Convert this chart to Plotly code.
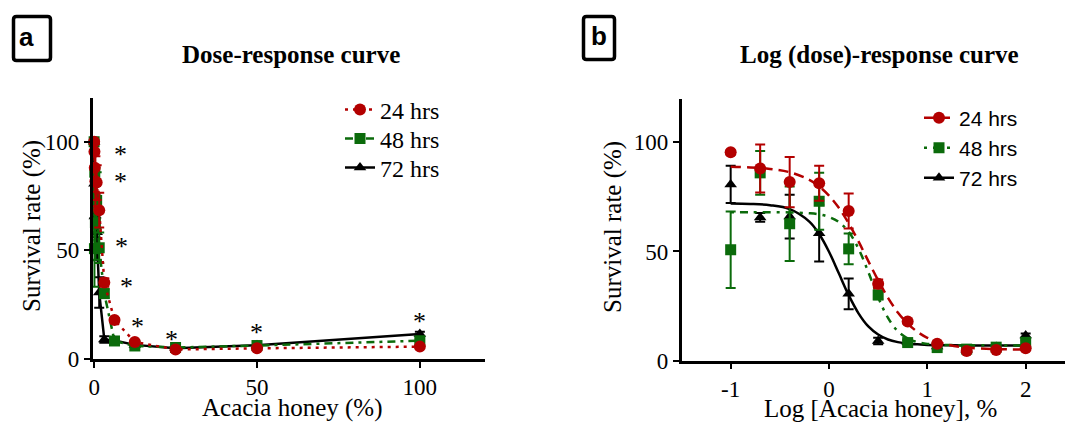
import plotly.graph_objects as go

# ---------------- data ----------------
series_names = ["24 hrs", "48 hrs", "72 hrs"]

# log10 of honey concentration (%) used in panel b
log_dose = [-1.0, -0.7, -0.4, -0.1, 0.2, 0.5, 0.8, 1.1, 1.4, 1.7, 2.0]
# linear honey concentration (%) used in panel a (0 = untreated control)
lin_dose = [0, 0.1, 0.2, 0.39, 0.78, 1.56, 3.125, 6.25, 12.5, 25, 50, 100]

surv_24 = [95.4, 88.0, 81.8, 81.2, 68.5, 35.2, 17.9, 7.8, 4.4, 4.9, 5.7]
surv_48 = [50.8, 86.0, 62.7, 73.0, 51.2, 30.1, 8.3, 6.0, 5.3, 6.2, 8.4]
surv_72 = [80.7, 65.6, 66.0, 58.4, 30.6, 9.0, 8.5, 6.5, 5.0, 6.3, 11.5]

err_24 = [1.0, 11.0, 11.5, 8.0, 8.0, 2.0, 1.0, 1.0, 0.5, 0.5, 0.5]
err_48 = [17.5, 10.0, 17.0, 13.0, 7.0, 2.0, 1.0, 1.0, 1.0, 1.0, 1.0]
err_72 = [8.5, 2.0, 10.0, 13.0, 7.0, 1.5, 1.0, 1.0, 1.0, 1.0, 1.0]

control_surv = 100.0
control_err = 0.0

# fitted curves (panel b)
curve_x = [-1.0, -0.8, -0.6, -0.4, -0.2, -0.1, 0.0, 0.1, 0.2, 0.3, 0.4, 0.5,
           0.6, 0.7, 0.8, 0.9, 1.0, 1.2, 1.4, 1.7, 2.0]
curve_24 = [88.8, 88.5, 87.8, 86.3, 82.8, 79.8, 75.6, 70.0, 62.9, 54.6, 45.6, 36.8,
            28.8, 22.1, 17.0, 13.2, 10.5, 7.4, 6.0, 5.3, 5.1]
curve_48 = [68.0, 68.0, 68.0, 67.9, 67.5, 67.0, 65.8, 63.5, 59.0, 51.3, 40.6, 29.0,
            19.6, 13.5, 10.2, 8.5, 7.7, 7.2, 7.1, 7.0, 7.0]
curve_72 = [72.0, 71.8, 71.2, 69.4, 63.7, 58.0, 49.9, 40.0, 30.0, 21.7, 15.7, 12.0,
            9.7, 8.5, 7.8, 7.5, 7.2, 7.1, 7.0, 7.0, 7.0]

# significance stars (panel a)
star_x = [8.0, 8.2, 8.5, 9.8, 13.4, 23.6, 49.9, 99.8]
star_y = [96.4, 84.1, 54.1, 35.7, 17.2, 11.1, 14.3, 19.5]

a_ticks = [0, 50, 100]
b_xticks = [-1, 0, 1, 2]
b_xticktext = ["-1", "0", "1", "2"]
y_ticks = [0, 50, 100]

# ---------------- style ----------------
W, H = 1065, 423
RED = "#B30000"
GREEN = "#0B6B0B"
BLACK = "#000000"
SERIF = "Liberation Serif"
SANS = "Liberation Sans"


def px_x(p):
    return p / W


def px_y(p):
    return (H - p) / H


styles = {
    "24 hrs": dict(color=RED, symbol="circle", size=12, dash_a="3px,5px", dash_b="10px,6px"),
    "48 hrs": dict(color=GREEN, symbol="square", size=11, dash_a="8px,5px,3px,5px", dash_b="3px,6px,8px,6px"),
    "72 hrs": dict(color=BLACK, symbol="triangle-up", size=11, dash_a="solid", dash_b="solid"),
}
vals = {"24 hrs": (surv_24, err_24, curve_24),
        "48 hrs": (surv_48, err_48, curve_48),
        "72 hrs": (surv_72, err_72, curve_72)}

# one legend per entry so rows can be placed like the reference
legend_a = {"24 hrs": "legend", "48 hrs": "legend3", "72 hrs": "legend4"}
legend_b = {"24 hrs": "legend2", "48 hrs": "legend5", "72 hrs": "legend6"}
row_a = {"24 hrs": 110, "48 hrs": 139, "72 hrs": 168}
row_b = {"24 hrs": 118, "48 hrs": 148, "72 hrs": 178}

fig = go.Figure()

# draw order: 72 at the bottom, 24 on top
for name in ["72 hrs", "48 hrs", "24 hrs"]:
    st = styles[name]
    s, e, c = vals[name]
    # panel a: connected points
    fig.add_trace(go.Scatter(
        x=lin_dose, y=[control_surv] + s, mode="lines+markers", name=name,
        legend=legend_a[name], cliponaxis=False,
        line=dict(color=st["color"], width=2.5, dash=st["dash_a"]),
        marker=dict(color=st["color"], symbol=st["symbol"], size=st["size"]),
        error_y=dict(type="data", array=[control_err] + e, color=st["color"], thickness=2, width=5),
        xaxis="x", yaxis="y"))
    # panel b: fitted curve
    fig.add_trace(go.Scatter(
        x=curve_x, y=c, mode="lines", showlegend=False,
        line=dict(color=st["color"], width=2.5, dash=st["dash_b"], shape="spline", smoothing=1.0),
        xaxis="x2", yaxis="y2"))
    # panel b: data points
    fig.add_trace(go.Scatter(
        x=log_dose, y=s, mode="markers", showlegend=False, cliponaxis=False,
        marker=dict(color=st["color"], symbol=st["symbol"], size=st["size"]),
        error_y=dict(type="data", array=e, color=st["color"], thickness=2, width=5),
        xaxis="x2", yaxis="y2"))
    # panel b legend entry
    fig.add_trace(go.Scatter(
        x=[None], y=[None], mode="lines+markers", name=name,
        legend=legend_b[name],
        line=dict(color=st["color"], width=2.5, dash=st["dash_b"]),
        marker=dict(color=st["color"], symbol=st["symbol"], size=st["size"]),
        xaxis="x2", yaxis="y2"))

axis_common = dict(showline=True, linecolor="black", linewidth=2.5, ticks="outside",
                   ticklen=6, tickwidth=2, tickcolor="black", showgrid=False,
                   zeroline=False, automargin=False,
                   tickfont=dict(family=SERIF, size=23, color="black"))

legend_layout = {}
for name in series_names:
    legend_layout[legend_a[name]] = dict(
        x=px_x(340), y=px_y(row_a[name]), xanchor="left", yanchor="middle",
        font=dict(family=SERIF, size=24, color="black"), bgcolor="rgba(0,0,0,0)", itemwidth=30)
    legend_layout[legend_b[name]] = dict(
        x=px_x(919), y=px_y(row_b[name]), xanchor="left", yanchor="middle",
        font=dict(family=SANS, size=21, color="black"), bgcolor="rgba(0,0,0,0)", itemwidth=30)

fig.update_layout(
    width=W, height=H, margin=dict(l=0, r=0, t=0, b=0, autoexpand=False),
    paper_bgcolor="white", plot_bgcolor="white",
    xaxis=dict(domain=[px_x(92.5), px_x(485)], range=[-0.5, 120], tickvals=a_ticks,
               anchor="y", **axis_common),
    yaxis=dict(domain=[px_y(359), px_y(98.3)], range=[0, 120], tickvals=y_ticks,
               anchor="x", **axis_common),
    xaxis2=dict(domain=[px_x(681.5), 1.0], range=[-1.5, 2.4], tickvals=b_xticks,
                ticktext=b_xticktext, anchor="y2", **axis_common),
    yaxis2=dict(domain=[px_y(360.7), px_y(98.6)], range=[0, 120], tickvals=y_ticks,
                anchor="x2", **axis_common),
    showlegend=True,
    **legend_layout,
)

annotations = []


def txt(x, y, text, family, size, angle=0, xa="center", ya="middle"):
    return dict(x=px_x(x), y=px_y(y), xref="paper", yref="paper", text=text,
                xanchor=xa, yanchor=ya, textangle=angle, showarrow=False,
                font=dict(family=family, size=size, color="black"))


# titles
annotations.append(txt(291, 55, "<b>Dose-response curve</b>", SERIF, 25))
annotations.append(txt(879, 55, "<b>Log (dose)-response curve</b>", SERIF, 25))
# axis titles
annotations.append(txt(292, 408, "Acacia honey (%)", SERIF, 25))
annotations.append(txt(880, 408, "Log [Acacia honey], %", SERIF, 25))
annotations.append(txt(32, 226, "Survival rate (%)", SERIF, 25, angle=-90))
annotations.append(txt(613, 227, "Survival rate (%)", SERIF, 25, angle=-90))
# panel letters
annotations.append(txt(26, 37, "<b>a</b>", SANS, 26))
annotations.append(txt(599, 36, "<b>b</b>", SANS, 26))
# stars
for sx, sy in zip(star_x, star_y):
    annotations.append(dict(x=sx, y=sy, xref="x", yref="y", text="*", showarrow=False,
                            xanchor="center", yanchor="middle",
                            yshift=-5, font=dict(family=SERIF, size=26, color="black")))
fig.update_layout(annotations=annotations)


def rounded_box(x0, y0, x1, y1, r):
    pts = [
        f"M {px_x(x0 + r)},{px_y(y0)}",
        f"L {px_x(x1 - r)},{px_y(y0)}",
        f"Q {px_x(x1)},{px_y(y0)} {px_x(x1)},{px_y(y0 + r)}",
        f"L {px_x(x1)},{px_y(y1 - r)}",
        f"Q {px_x(x1)},{px_y(y1)} {px_x(x1 - r)},{px_y(y1)}",
        f"L {px_x(x0 + r)},{px_y(y1)}",
        f"Q {px_x(x0)},{px_y(y1)} {px_x(x0)},{px_y(y1 - r)}",
        f"L {px_x(x0)},{px_y(y0 + r)}",
        f"Q {px_x(x0)},{px_y(y0)} {px_x(x0 + r)},{px_y(y0)}",
        "Z",
    ]
    return " ".join(pts)


fig.update_layout(shapes=[
    dict(type="path", xref="paper", yref="paper", path=rounded_box(13.5, 16.5, 50.5, 60.5, 3),
         line=dict(color="black", width=3.5)),
    dict(type="path", xref="paper", yref="paper", path=rounded_box(583.5, 16.5, 614.5, 59.5, 3),
         line=dict(color="black", width=3.5)),
])

post = (
    "document.documentElement.style.margin='0px';"
    "document.documentElement.style.padding='0px';"
    "document.documentElement.style.overflow='hidden';"
    "document.body.style.margin='0px';"
    "document.body.style.padding='0px';"
    "document.body.style.overflow='hidden';"
)
fig.write_html("out.html", config={"displayModeBar": False}, post_script=post)
